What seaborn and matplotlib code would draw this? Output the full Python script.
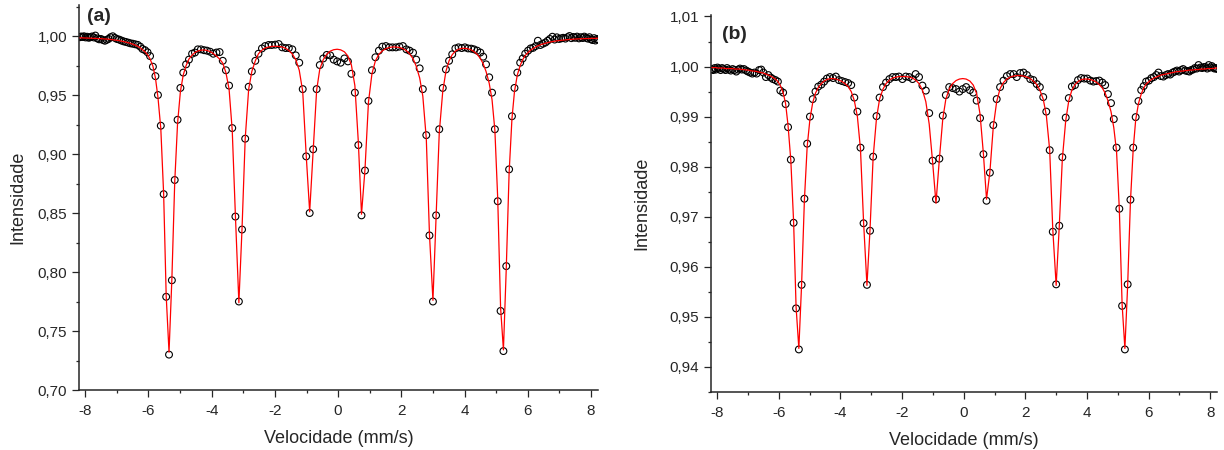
import matplotlib
matplotlib.use("Agg")
import matplotlib.pyplot as plt
from matplotlib.ticker import MultipleLocator, FuncFormatter
import pandas as pd
import seaborn as sns

# canais de velocidade (mm/s), iguais para os dois espectros
velocidade = [
    -8.17, -8.13, -8.08, -8.04, -7.99, -7.94, -7.89, -7.84, -7.79, -7.73,
    -7.68, -7.62, -7.56, -7.50, -7.44, -7.38, -7.32, -7.26, -7.20, -7.13,
    -7.06, -7.00, -6.93, -6.86, -6.79, -6.72, -6.64, -6.57, -6.50, -6.42,
    -6.34, -6.26, -6.19, -6.11, -6.03, -5.95, -5.86, -5.78, -5.70, -5.61,
    -5.52, -5.44, -5.35, -5.26, -5.17, -5.08, -4.99, -4.90, -4.81, -4.72,
    -4.62, -4.53, -4.44, -4.34, -4.24, -4.15, -4.05, -3.95, -3.85, -3.75,
    -3.65, -3.55, -3.45, -3.35, -3.25, -3.14, -3.04, -2.94, -2.83, -2.73,
    -2.62, -2.52, -2.41, -2.31, -2.20, -2.10, -1.99, -1.88, -1.77, -1.66,
    -1.56, -1.45, -1.34, -1.23, -1.12, -1.01, -0.90, -0.79, -0.68, -0.58,
    -0.47, -0.36, -0.25, -0.14, -0.03, 0.08, 0.20, 0.31, 0.42, 0.53,
    0.64, 0.74, 0.85, 0.96, 1.07, 1.18, 1.29, 1.40, 1.51, 1.62,
    1.72, 1.83, 1.94, 2.05, 2.16, 2.26, 2.37, 2.47, 2.58, 2.68,
    2.79, 2.89, 3.00, 3.10, 3.20, 3.31, 3.41, 3.51, 3.61, 3.71,
    3.81, 3.91, 4.01, 4.11, 4.21, 4.30, 4.40, 4.50, 4.59, 4.68,
    4.78, 4.87, 4.96, 5.05, 5.14, 5.23, 5.32, 5.41, 5.50, 5.58,
    5.67, 5.76, 5.84, 5.92, 6.01, 6.09, 6.17, 6.25, 6.32, 6.40,
    6.48, 6.56, 6.63, 6.70, 6.78, 6.85, 6.92, 6.99, 7.06, 7.12,
    7.19, 7.26, 7.32, 7.38, 7.44, 7.50, 7.56, 7.62, 7.68, 7.74,
    7.79, 7.85, 7.90, 7.95, 8.00, 8.05, 8.10, 8.14, 8.19, 8.23,
]

# (a) pontos experimentais e ajuste
intensidade_a = [
    0.9990, 0.9996, 0.9992, 0.9998, 0.9988, 0.9994, 0.9985, 0.9990, 0.9996, 0.9988,
    1.0004, 0.9980, 0.9972, 0.9975, 0.9966, 0.9960, 0.9968, 0.9976, 0.9990, 0.9998,
    0.9984, 0.9975, 0.9970, 0.9962, 0.9955, 0.9950, 0.9944, 0.9938, 0.9935, 0.9930,
    0.9925, 0.9910, 0.9890, 0.9880, 0.9862, 0.9830, 0.9740, 0.9660, 0.9500, 0.9240,
    0.8660, 0.7790, 0.7300, 0.7930, 0.8780, 0.9290, 0.9560, 0.9690, 0.9760, 0.9800,
    0.9850, 0.9860, 0.9887, 0.9887, 0.9880, 0.9876, 0.9867, 0.9850, 0.9860, 0.9864,
    0.9790, 0.9710, 0.9580, 0.9220, 0.8470, 0.7750, 0.8360, 0.9130, 0.9570, 0.9700,
    0.9790, 0.9850, 0.9895, 0.9915, 0.9924, 0.9924, 0.9927, 0.9932, 0.9904, 0.9898,
    0.9898, 0.9887, 0.9836, 0.9774, 0.9550, 0.8980, 0.8500, 0.9040, 0.9550, 0.9754,
    0.9810, 0.9840, 0.9836, 0.9800, 0.9785, 0.9774, 0.9810, 0.9785, 0.9680, 0.9520,
    0.9076, 0.8480, 0.8860, 0.9450, 0.9710, 0.9820, 0.9876, 0.9910, 0.9915, 0.9904,
    0.9904, 0.9904, 0.9910, 0.9915, 0.9887, 0.9876, 0.9859, 0.9800, 0.9726, 0.9550,
    0.9160, 0.8310, 0.7750, 0.8480, 0.9210, 0.9560, 0.9717, 0.9790, 0.9845, 0.9895,
    0.9904, 0.9898, 0.9904, 0.9895, 0.9893, 0.9887, 0.9876, 0.9860, 0.9825, 0.9760,
    0.9650, 0.9520, 0.9210, 0.8600, 0.7670, 0.7330, 0.8050, 0.8870, 0.9320, 0.9560,
    0.9690, 0.9774, 0.9810, 0.9850, 0.9876, 0.9895, 0.9900, 0.9915, 0.9960, 0.9924,
    0.9935, 0.9945, 0.9960, 0.9975, 0.9994, 0.9970, 0.9989, 0.9975, 0.9980, 0.9985,
    0.9978, 0.9990, 1.0000, 0.9982, 0.9992, 0.9985, 0.9995, 0.9980, 0.9990, 0.9983,
    0.9995, 0.9985, 0.9978, 0.9990, 0.9972, 0.9966, 0.9982, 0.9962, 0.9975, 0.9970,
]
ajuste_a = [
    0.9985, 0.9985, 0.9984, 0.9984, 0.9983, 0.9983, 0.9982, 0.9982, 0.9981, 0.9980,
    0.9980, 0.9979, 0.9978, 0.9978, 0.9976, 0.9975, 0.9974, 0.9973, 0.9971, 0.9969,
    0.9967, 0.9964, 0.9961, 0.9957, 0.9953, 0.9949, 0.9943, 0.9938, 0.9931, 0.9923,
    0.9913, 0.9900, 0.9885, 0.9866, 0.9842, 0.9806, 0.9745, 0.9645, 0.9480, 0.9215,
    0.8660, 0.7800, 0.7320, 0.7940, 0.8760, 0.9260, 0.9530, 0.9670, 0.9750, 0.9805,
    0.9838, 0.9860, 0.9873, 0.9880, 0.9882, 0.9878, 0.9868, 0.9852, 0.9830, 0.9805,
    0.9770, 0.9690, 0.9550, 0.9200, 0.8480, 0.7740, 0.8370, 0.9130, 0.9550, 0.9700,
    0.9790, 0.9850, 0.9880, 0.9898, 0.9907, 0.9912, 0.9913, 0.9912, 0.9907, 0.9896,
    0.9878, 0.9848, 0.9800, 0.9710, 0.9530, 0.8990, 0.8510, 0.9030, 0.9540, 0.9720,
    0.9800, 0.9845, 0.9872, 0.9884, 0.9888, 0.9883, 0.9866, 0.9830, 0.9755, 0.9580,
    0.9100, 0.8490, 0.8870, 0.9440, 0.9680, 0.9790, 0.9845, 0.9875, 0.9893, 0.9903,
    0.9907, 0.9907, 0.9903, 0.9893, 0.9876, 0.9850, 0.9808, 0.9745, 0.9645, 0.9490,
    0.9130, 0.8320, 0.7760, 0.8480, 0.9180, 0.9530, 0.9700, 0.9790, 0.9842, 0.9872,
    0.9888, 0.9895, 0.9896, 0.9892, 0.9883, 0.9868, 0.9845, 0.9810, 0.9765, 0.9700,
    0.9600, 0.9460, 0.9200, 0.8620, 0.7700, 0.7340, 0.8030, 0.8840, 0.9300, 0.9530,
    0.9670, 0.9750, 0.9800, 0.9835, 0.9860, 0.9880, 0.9895, 0.9907, 0.9917, 0.9926,
    0.9933, 0.9939, 0.9944, 0.9949, 0.9953, 0.9956, 0.9959, 0.9962, 0.9964, 0.9966,
    0.9968, 0.9970, 0.9971, 0.9972, 0.9973, 0.9974, 0.9975, 0.9976, 0.9977, 0.9977,
    0.9978, 0.9978, 0.9979, 0.9979, 0.9980, 0.9980, 0.9980, 0.9981, 0.9981, 0.9981,
]

# (b) pontos experimentais e ajuste
intensidade_b = [
    0.9995, 0.9993, 0.9997, 0.9994, 0.9998, 0.9996, 0.9993, 0.9997, 0.9995, 0.9993,
    0.9997, 0.9994, 0.9992, 0.9995, 0.9993, 0.9990, 0.9994, 0.9996, 0.9994, 0.9995,
    0.9992, 0.9990, 0.9988, 0.9986, 0.9988, 0.9986, 0.9993, 0.9994, 0.9988, 0.9979,
    0.9983, 0.9978, 0.9975, 0.9973, 0.9970, 0.9952, 0.9948, 0.9925, 0.9879, 0.9814,
    0.9688, 0.9517, 0.9435, 0.9564, 0.9736, 0.9846, 0.9900, 0.9935, 0.9950, 0.9960,
    0.9964, 0.9970, 0.9976, 0.9979, 0.9977, 0.9980, 0.9973, 0.9971, 0.9969, 0.9967,
    0.9963, 0.9938, 0.9910, 0.9838, 0.9687, 0.9564, 0.9672, 0.9820, 0.9901, 0.9938,
    0.9959, 0.9968, 0.9975, 0.9979, 0.9979, 0.9980, 0.9975, 0.9980, 0.9979, 0.9975,
    0.9985, 0.9979, 0.9962, 0.9952, 0.9907, 0.9812, 0.9735, 0.9816, 0.9902, 0.9943,
    0.9959, 0.9957, 0.9955, 0.9950, 0.9955, 0.9959, 0.9953, 0.9948, 0.9932, 0.9897,
    0.9825, 0.9732, 0.9788, 0.9883, 0.9935, 0.9959, 0.9972, 0.9981, 0.9985, 0.9985,
    0.9979, 0.9987, 0.9988, 0.9983, 0.9975, 0.9973, 0.9965, 0.9959, 0.9939, 0.9910,
    0.9833, 0.9670, 0.9565, 0.9682, 0.9819, 0.9898, 0.9937, 0.9960, 0.9963, 0.9973,
    0.9977, 0.9976, 0.9976, 0.9972, 0.9970, 0.9971, 0.9972, 0.9968, 0.9963, 0.9945,
    0.9927, 0.9895, 0.9838, 0.9716, 0.9522, 0.9435, 0.9565, 0.9734, 0.9838, 0.9899,
    0.9931, 0.9953, 0.9961, 0.9970, 0.9972, 0.9977, 0.9979, 0.9983, 0.9988, 0.9981,
    0.9980, 0.9983, 0.9985, 0.9984, 0.9988, 0.9990, 0.9992, 0.9990, 0.9993, 0.9995,
    0.9992, 0.9991, 0.9990, 0.9993, 0.9994, 0.9997, 0.9996, 1.0003, 0.9998, 0.9997,
    0.9999, 0.9999, 0.9996, 1.0003, 0.9998, 1.0001, 0.9998, 0.9996, 0.9997, 0.9995,
]
ajuste_b = [
    0.9998, 0.9998, 0.9998, 0.9998, 0.9997, 0.9997, 0.9997, 0.9997, 0.9997, 0.9996,
    0.9996, 0.9996, 0.9996, 0.9996, 0.9995, 0.9995, 0.9995, 0.9995, 0.9994, 0.9994,
    0.9993, 0.9993, 0.9992, 0.9991, 0.9991, 0.9990, 0.9989, 0.9988, 0.9987, 0.9985,
    0.9983, 0.9981, 0.9978, 0.9975, 0.9970, 0.9962, 0.9948, 0.9926, 0.9882, 0.9812,
    0.9690, 0.9520, 0.9437, 0.9566, 0.9733, 0.9840, 0.9895, 0.9928, 0.9947, 0.9958,
    0.9966, 0.9971, 0.9974, 0.9976, 0.9976, 0.9975, 0.9973, 0.9970, 0.9966, 0.9960,
    0.9950, 0.9932, 0.9900, 0.9835, 0.9690, 0.9563, 0.9675, 0.9818, 0.9897, 0.9935,
    0.9955, 0.9966, 0.9973, 0.9977, 0.9979, 0.9980, 0.9980, 0.9980, 0.9979, 0.9977,
    0.9973, 0.9966, 0.9953, 0.9930, 0.9885, 0.9810, 0.9727, 0.9815, 0.9895, 0.9935,
    0.9955, 0.9966, 0.9972, 0.9975, 0.9976, 0.9975, 0.9971, 0.9963, 0.9946, 0.9905,
    0.9825, 0.9735, 0.9790, 0.9880, 0.9930, 0.9956, 0.9968, 0.9975, 0.9979, 0.9981,
    0.9982, 0.9982, 0.9981, 0.9979, 0.9976, 0.9971, 0.9964, 0.9953, 0.9935, 0.9903,
    0.9833, 0.9675, 0.9563, 0.9680, 0.9815, 0.9892, 0.9932, 0.9953, 0.9964, 0.9970,
    0.9974, 0.9975, 0.9975, 0.9974, 0.9972, 0.9969, 0.9964, 0.9957, 0.9947, 0.9932,
    0.9910, 0.9878, 0.9830, 0.9715, 0.9525, 0.9437, 0.9563, 0.9730, 0.9835, 0.9893,
    0.9926, 0.9945, 0.9957, 0.9965, 0.9970, 0.9974, 0.9977, 0.9979, 0.9981, 0.9983,
    0.9984, 0.9985, 0.9986, 0.9987, 0.9988, 0.9989, 0.9990, 0.9990, 0.9991, 0.9991,
    0.9992, 0.9992, 0.9993, 0.9993, 0.9993, 0.9994, 0.9994, 0.9994, 0.9995, 0.9995,
    0.9995, 0.9995, 0.9996, 0.9996, 0.9996, 0.9996, 0.9996, 0.9997, 0.9997, 0.9997,
]

sns.set_style("ticks")
plt.rcParams["font.family"] = ["Liberation Sans", "DejaVu Sans"]
plt.rcParams["axes.unicode_minus"] = False

df_a = pd.DataFrame({"v": velocidade, "exp": intensidade_a, "fit": ajuste_a})
df_b = pd.DataFrame({"v": velocidade, "exp": intensidade_b, "fit": ajuste_b})

fig = plt.figure(figsize=(12.24, 4.5), dpi=100)
ax_a = fig.add_axes([0.0645, 0.1333, 0.424, 0.8556])
ax_b = fig.add_axes([0.5809, 0.1289, 0.4134, 0.8378])

virgula = FuncFormatter(lambda y, p: f"{y:.2f}".replace(".", ","))
inteiro = FuncFormatter(lambda x, p: f"{x:.0f}" if abs(x) > 0.01 else "0")


def painel(ax, df, ylim, passo, rotulo, pos, ypad):
    sns.scatterplot(data=df, x="v", y="exp", ax=ax, marker="o", s=24,
                    facecolor="none", edgecolor="black", linewidth=0.8, zorder=2)
    sns.lineplot(data=df, x="v", y="fit", ax=ax, color="#ff0000", linewidth=0.9,
                 sort=False, estimator=None, zorder=3)
    ax.set_xlim(-8.2, 8.22)
    ax.set_ylim(*ylim)
    ax.xaxis.set_major_locator(MultipleLocator(2))
    ax.xaxis.set_minor_locator(MultipleLocator(1))
    ax.yaxis.set_major_locator(MultipleLocator(passo))
    ax.yaxis.set_minor_locator(MultipleLocator(passo / 2))
    ax.xaxis.set_major_formatter(inteiro)
    ax.yaxis.set_major_formatter(virgula)
    ax.tick_params(which="major", direction="out", length=5, width=0.9, labelsize=11)
    ax.tick_params(axis="x", which="major", pad=5)
    ax.tick_params(which="minor", direction="out", length=2.5, width=0.9)
    sns.despine(ax=ax)
    for s in ("left", "bottom"):
        ax.spines[s].set_linewidth(1.1)
    ax.set_xlabel("Velocidade (mm/s)", fontsize=13, labelpad=9)
    ax.set_ylabel("Intensidade", fontsize=13, labelpad=ypad)
    ax.text(pos[0], pos[1], rotulo, transform=ax.transAxes, fontsize=14,
            fontweight="bold", ha="left", va="center")


painel(ax_a, df_a, (0.70, 1.0263), 0.05, "(a)", (0.015, 0.969), 8)
painel(ax_b, df_b, (0.935, 1.0103), 0.01, "(b)", (0.021, 0.947), 14)

fig.savefig("out.png", dpi=100)
